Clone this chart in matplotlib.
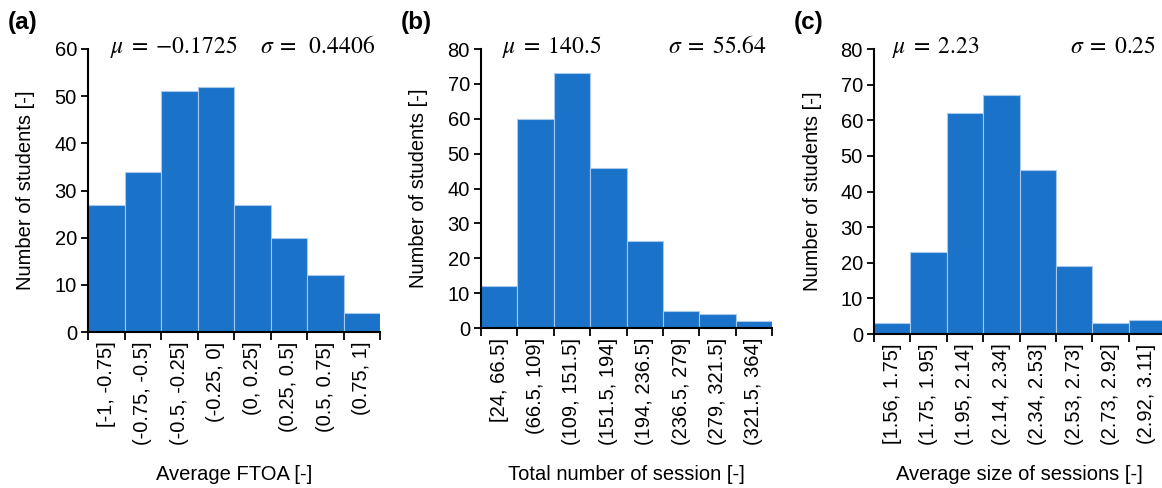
import numpy as np
import matplotlib
matplotlib.use("Agg")
import matplotlib.pyplot as plt

plt.rcParams['font.family'] = ['Liberation Sans', 'DejaVu Sans']
plt.rcParams['mathtext.fontset'] = 'stix'

# data
counts_a = [27, 34, 51, 52, 27, 20, 12, 4]
counts_b = [12, 60, 73, 46, 25, 5, 4, 2]
counts_c = [3, 23, 62, 67, 46, 19, 3, 4]

bins_a = ['[-1, -0.75]', '(-0.75, -0.5]', '(-0.5, -0.25]', '(-0.25, 0]',
          '(0, 0.25]', '(0.25, 0.5]', '(0.5, 0.75]', '(0.75, 1]']
bins_b = ['[24, 66.5]', '(66.5, 109]', '(109, 151.5]', '(151.5, 194]',
          '(194, 236.5]', '(236.5, 279]', '(279, 321.5]', '(321.5, 364]']
bins_c = ['[1.56, 1.75]', '(1.75, 1.95]', '(1.95, 2.14]', '(2.14, 2.34]',
          '(2.34, 2.53]', '(2.53, 2.73]', '(2.73, 2.92]', '(2.92, 3.11]']

xlabels = ['Average FTOA [-]', 'Total number of session [-]', 'Average size of sessions [-]']
mus = [r'$\mu\;=\;{-0.1725}$', r'$\mu\;=\;140.5$', r'$\mu\;=\;2.23$']
sigmas = [r'$\sigma\;=\;\;0.4406$', r'$\sigma\;=\;55.64$', r'$\sigma\;=\;0.25$']
panel = ['(a)', '(b)', '(c)']
ymaxs = [60, 80, 80]

W, H = 1162, 488
fig = plt.figure(figsize=(W / 100, H / 100), dpi=100)

# pixel boxes: left, right, bottom(y of x-axis), top
boxes = [(88, 380, 332, 49), (481, 772, 328, 49), (874, 1165, 334, 49)]
mu_x = [110, 502, 892]
sigma_x = [375, 767, 1156]
bar_color = '#1a73c8'

for i, (counts, bins) in enumerate([(counts_a, bins_a), (counts_b, bins_b), (counts_c, bins_c)]):
    l, r, b, t = boxes[i]
    ax = fig.add_axes([l / W, (H - b) / H, (r - l) / W, (b - t) / H])
    x = np.arange(len(counts))
    ax.bar(x, counts, width=1, align='edge', color=bar_color,
           edgecolor='#a9c9ec', linewidth=0.8)
    ax.set_xlim(0, len(counts))
    ax.set_ylim(0, ymaxs[i])
    ax.set_yticks(np.arange(0, ymaxs[i] + 1, 10))
    ax.set_xticks(np.arange(len(counts) + 1))
    ax.set_xticklabels([])
    ax.set_xticks(x + 0.5, minor=True)
    ax.set_xticklabels(bins, minor=True, rotation=90, va='top', ha='center')
    ax.tick_params(axis='x', which='minor', length=0, labelsize=14.5, pad=7)
    ax.tick_params(axis='x', which='major', length=6, width=1.3)
    ax.tick_params(axis='y', length=5, width=1.3, labelsize=14.5, pad=3)
    for s in ['top', 'right']:
        ax.spines[s].set_visible(False)
    for s in ['left', 'bottom']:
        ax.spines[s].set_linewidth(1.5)
    fig.text((l - 62) / W, 1 - (b + t) / 2 / H, 'Number of students [-]', fontsize=14.5,
             rotation=90, ha='center', va='center')
    fig.text((l + r) / 2 / W, 1 - 474 / H, xlabels[i], fontsize=14.5,
             ha='center', va='center')
    fig.text(mu_x[i] / W, 1 - 47 / H, mus[i], fontsize=17,
             ha='left', va='center')
    fig.text(sigma_x[i] / W, 1 - 47 / H, sigmas[i], fontsize=17,
             ha='right', va='center')
    fig.text((l - 80) / W, 1 - 22 / H, panel[i], fontsize=17.5, fontweight='bold',
             ha='left', va='center')

fig.savefig('out.png', dpi=100)
